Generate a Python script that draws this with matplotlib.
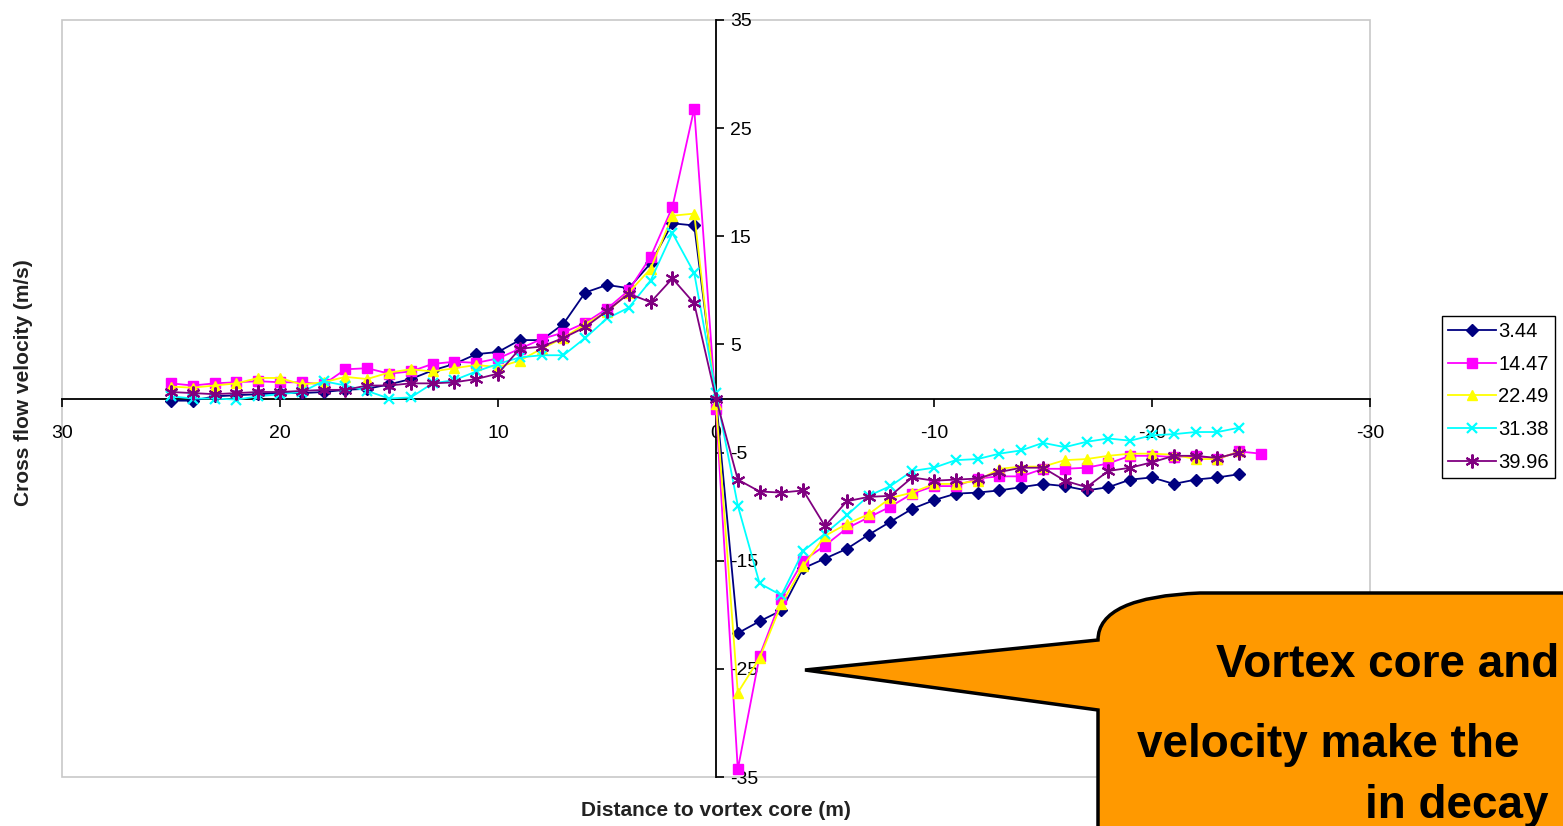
import matplotlib
matplotlib.use("Agg")
import matplotlib.pyplot as plt
from matplotlib.patches import Rectangle, PathPatch
from matplotlib.path import Path
import numpy as np

plt.rcParams['font.family'] = ['Liberation Sans', 'DejaVu Sans']

# distance to vortex core (m)
x_main = list(range(25, -25, -1))      # 25 .. -24
x_pink = list(range(25, -26, -1))      # 25 .. -25

v_344 = [-0.2, -0.2, 0.2, 0.3, 0.4, 0.5, 0.5, 0.6, 0.8, 0.9, 1.3, 1.8, 2.6, 3.2, 4.1, 4.3,
         5.4, 5.4, 6.9, 9.8, 10.5, 10.2, 12.5, 16.2, 16.0, 0.0,
         -21.7, -20.6, -19.6, -15.7, -14.8, -13.9, -12.6, -11.4, -10.2, -9.4, -8.8, -8.7,
         -8.5, -8.2, -7.9, -8.1, -8.5, -8.2, -7.5, -7.3, -7.9, -7.5, -7.3, -7.0]
v_1447 = [1.4, 1.2, 1.4, 1.5, 1.6, 1.5, 1.5, 1.3, 2.7, 2.8, 2.3, 2.5, 3.2, 3.4, 3.3, 3.7,
          4.6, 5.5, 6.1, 7.0, 8.3, 10.0, 13.1, 17.7, 26.8, -1.0,
          -34.3, -23.8, -18.5, -15.0, -13.6, -12.0, -11.0, -10.0, -8.8, -8.1, -8.1, -7.4,
          -7.2, -7.2, -6.5, -6.5, -6.4, -6.0, -5.3, -5.3, -5.4, -5.3, -5.6, -4.9, -5.1]
v_2249 = [1.1, 1.0, 1.2, 1.4, 1.9, 1.9, 1.3, 1.5, 2.0, 1.8, 2.4, 2.7, 2.5, 2.8, 3.1, 2.9,
          3.5, 4.6, 5.6, 6.9, 8.0, 9.8, 12.0, 16.9, 17.1, -0.5,
          -27.2, -24.0, -19.0, -15.5, -12.7, -11.6, -10.7, -9.2, -8.7, -7.9, -7.9, -7.6,
          -6.5, -6.3, -6.3, -5.7, -5.6, -5.3, -5.1, -5.1, -5.2, -5.6, -5.6, -4.9]
v_3138 = [0.2, 0.0, 0.0, -0.1, 0.2, 0.4, 0.6, 1.6, 1.2, 0.7, 0.0, 0.1, 1.4, 1.7, 2.5, 3.2,
          3.8, 4.0, 4.0, 5.6, 7.4, 8.4, 10.9, 15.3, 11.6, 0.5,
          -9.9, -17.1, -18.2, -14.1, -12.5, -10.8, -9.0, -8.1, -6.7, -6.4, -5.7, -5.6,
          -5.1, -4.8, -4.1, -4.5, -4.0, -3.7, -3.9, -3.4, -3.3, -3.1, -3.1, -2.7]
v_3996 = [0.6, 0.5, 0.4, 0.5, 0.6, 0.6, 0.7, 0.8, 0.8, 1.2, 1.2, 1.4, 1.4, 1.5, 1.8, 2.3,
          4.6, 4.8, 5.6, 6.6, 8.1, 9.7, 8.9, 11.1, 8.8, 0.0,
          -7.5, -8.6, -8.7, -8.5, -11.8, -9.5, -9.1, -9.0, -7.3, -7.6, -7.5, -7.4,
          -6.8, -6.4, -6.4, -7.6, -8.2, -6.7, -6.4, -5.9, -5.3, -5.3, -5.5, -5.0]

labels = ['3.44', '14.47', '22.49', '31.38', '39.96']
x_ticks = [30, 20, 10, 0, -10, -20, -30]
y_ticks = [35, 25, 15, 5, -5, -15, -25, -35]

W, H = 1563, 826
fig = plt.figure(figsize=(W / 100, H / 100), dpi=100)
ax = fig.add_axes([62 / W, (H - 777) / H, (1370 - 62) / W, (777 - 20) / H])

series = [
    (x_main, v_344, '#000080', 'D', 6, 1.0),
    (x_pink, v_1447, '#FF00FF', 's', 7, 1.0),
    (x_main, v_2249, '#FFFF00', '^', 7, 1.0),
    (x_main, v_3138, '#00FFFF', 'x', 7, 1.6),
    (x_main, v_3996, '#800080', (6, 2, 0), 10, 1.5),
]
for (xs, ys, c, m, ms, mew), lab in zip(series, labels):
    ax.plot(xs, ys, color=c, marker=m, markersize=ms, linewidth=1.3, label=lab,
            markerfacecolor=c, markeredgecolor=c, markeredgewidth=mew)

ax.set_xlim(30, -30)
ax.set_ylim(-35, 35)

for s in ['top', 'left']:
    ax.spines[s].set_visible(False)
ax.spines['bottom'].set_position(('data', 0))
ax.spines['right'].set_position(('data', 0))
for s in ['bottom', 'right']:
    ax.spines[s].set_color('#111111')
    ax.spines[s].set_linewidth(1.4)
    ax.spines[s].set_zorder(1)
ax.yaxis.tick_right()
ax.set_xticks(x_ticks)
ax.set_xticklabels([str(t) for t in x_ticks])
ax.set_yticks(y_ticks)
ax.set_yticklabels([str(t) for t in y_ticks])
ax.tick_params(axis='x', direction='out', length=6, width=1.2, pad=13, labelsize=14)
ax.tick_params(axis='y', direction='out', length=6, width=1.2, pad=4, labelsize=14)
ax.patch.set_alpha(0)
ax.add_patch(Rectangle((0, 0), 1, 1, transform=ax.transAxes, fill=False,
                       edgecolor='#c8c8c8', linewidth=1.2, clip_on=False, zorder=0))

fig.text(24 / W, 1 - 383 / H, 'Cross flow velocity (m/s)', rotation=90, ha='center',
         va='center', fontsize=15, fontweight='bold', color='#222222')
fig.text(716 / W, 1 - 811 / H, 'Distance to vortex core (m)', ha='center', va='center',
         fontsize=15, fontweight='bold', color='#222222')

leg = fig.legend(loc='upper left', bbox_to_anchor=(1442 / W, 1 - 316 / H), borderaxespad=0,
                 fancybox=False, edgecolor='black', fontsize=14.5, handlelength=2.4,
                 handletextpad=0.1, labelspacing=0.68, borderpad=0.3, framealpha=1)
leg.get_frame().set_linewidth(1.0)

# callout
def P(x, y):
    return (x / W, 1 - y / H)

verts = [P(1098, 640), P(1098, 597), P(1200, 593), P(1620, 593), P(1620, 880),
         P(1098, 880), P(1098, 710), P(805, 670), P(1098, 640)]
codes = [Path.MOVETO, Path.CURVE3, Path.CURVE3, Path.LINETO, Path.LINETO,
         Path.LINETO, Path.LINETO, Path.LINETO, Path.CLOSEPOLY]
callout = PathPatch(Path(verts, codes), transform=fig.transFigure, facecolor='#FF9900',
                    edgecolor='black', linewidth=2.5, joinstyle='miter')
fig.patches.append(callout)

fig.text(1216 / W, 1 - 665 / H, 'Vortex core and', ha='left', va='center',
         fontsize=33, fontweight='bold', color='black')
fig.text(1137 / W, 1 - 745 / H, 'velocity make the', ha='left', va='center',
         fontsize=33, fontweight='bold', color='black')
fig.text(1365 / W, 1 - 806 / H, 'in decay', ha='left', va='center',
         fontsize=33, fontweight='bold', color='black')

fig.savefig('out.png', dpi=100)
